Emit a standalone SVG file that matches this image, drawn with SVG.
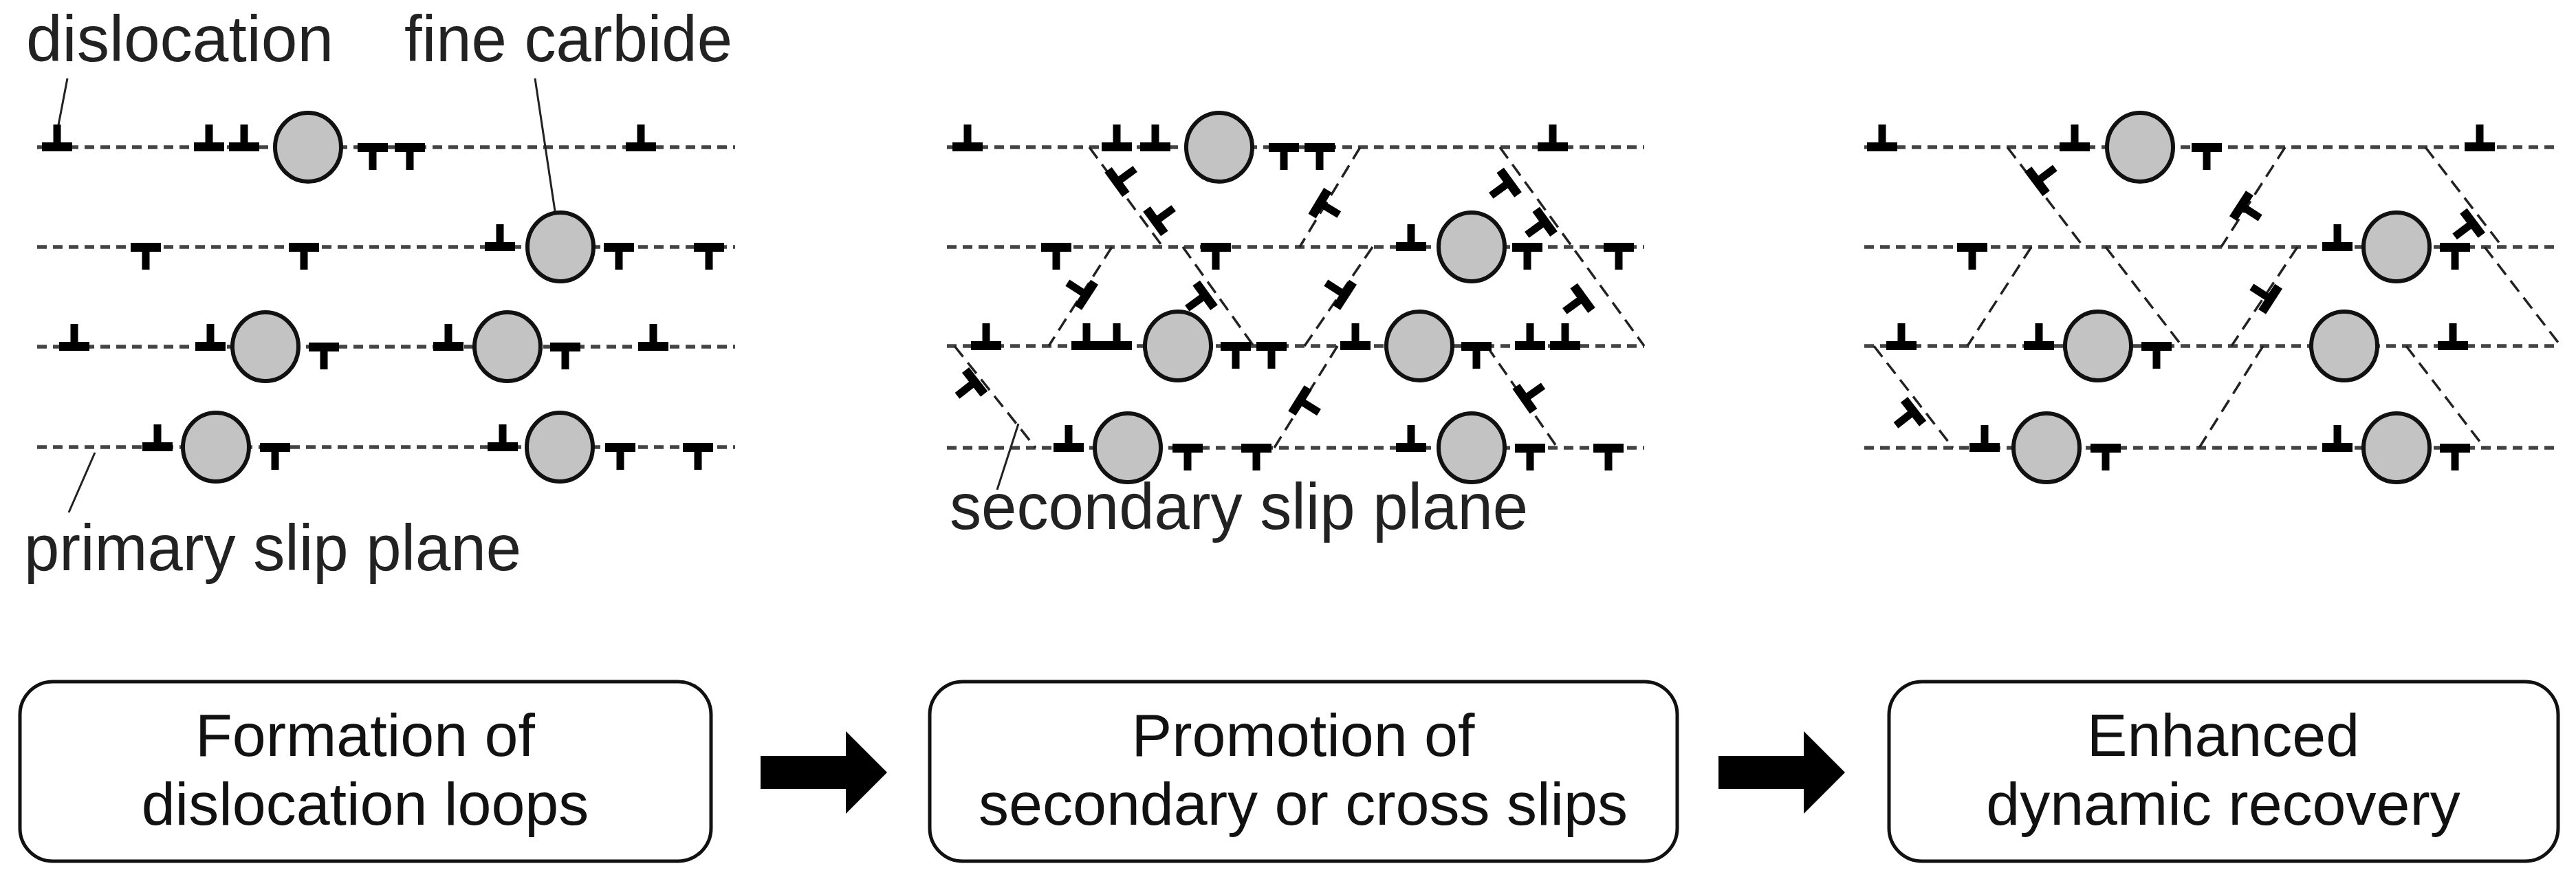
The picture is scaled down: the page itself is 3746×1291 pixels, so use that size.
<svg xmlns="http://www.w3.org/2000/svg" xmlns:xlink="http://www.w3.org/1999/xlink" width="3746" height="1291" viewBox="0 0 3746 1291">
<style>
.h{stroke:#444;stroke-width:5.5;stroke-dasharray:14 9;fill:none}
.s{stroke:#222;stroke-width:3.5;stroke-dasharray:20 11;fill:none}
.c{fill:#c3c3c3;stroke:#111;stroke-width:6}
.t{font-family:"Liberation Sans",Arial,sans-serif;font-size:94px;fill:#222}
.b{font-family:"Liberation Sans",Arial,sans-serif;font-size:88px;fill:#111;text-anchor:middle}
.box{fill:#fff;stroke:#111;stroke-width:5}
.ld{stroke:#222;stroke-width:3;fill:none}
</style>
<defs>
<g id="u"><rect x="-22" y="-7" width="44" height="13" fill="#000"/><rect x="-5.5" y="-33" width="11" height="30" fill="#000"/></g>
</defs>
<rect width="3746" height="1291" fill="#fff"/>
<g id="connectors">
<g id="p1">
<path class="h" d="M54 214H1069M54 359H1069M54 504H1069M54 650H1069"/>
<path class="ld" d="M98 114L83 192M778 114L815 360M138 658L100 745"/>
</g>
<g id="p2">
<path class="h" d="M1377 214H2391M1377 359H2391M1377 503H2391M1377 651H2391"/>
<path class="s" d="M1584 214L1691 359M1978 214L1890 359M2181 214L2391 503M1617 359L1525 503M1720 359L1823 503M1996 359L1897 503M1388 503L1506 651M1945 503L1853 651M2162 503L2265 651"/>
<path class="ld" d="M1481 616L1450 712"/>
</g>
<g id="p3">
<path class="h" d="M2711 214H3715M2711 359H3715M2711 503H3715M2711 651H3715"/>
<path class="s" d="M2919 214L3030 359M3323 214L3230 359M3527 214L3639 359M2954 359L2861 503M3062 359L3173 503M3341 359L3245 503M3613 359L3724 503M2725 503L2840 651M3291 503L3198 651M3499 503L3613 651"/>
</g>
<path d="M1106 1099H1230V1063L1290 1123L1230 1183V1147H1106Z" fill="#000"/>
<path d="M2499 1099H2623V1063L2683 1123L2623 1183V1147H2499Z" fill="#000"/>
</g>
<g id="carbides">
<ellipse class="c" cx="448" cy="214" rx="48" ry="50"/><ellipse class="c" cx="815" cy="359" rx="48" ry="50"/>
<ellipse class="c" cx="386" cy="504" rx="48" ry="50"/><ellipse class="c" cx="738" cy="504" rx="48" ry="50"/>
<ellipse class="c" cx="314" cy="650" rx="48" ry="50"/><ellipse class="c" cx="814" cy="650" rx="48" ry="50"/>
<ellipse class="c" cx="1773" cy="214" rx="48" ry="50"/><ellipse class="c" cx="2140" cy="359" rx="48" ry="50"/>
<ellipse class="c" cx="1713" cy="503" rx="48" ry="50"/><ellipse class="c" cx="2064" cy="503" rx="48" ry="50"/>
<ellipse class="c" cx="1640" cy="651" rx="48" ry="50"/><ellipse class="c" cx="2140" cy="651" rx="48" ry="50"/>
<ellipse class="c" cx="3112" cy="214" rx="48" ry="50"/><ellipse class="c" cx="3485" cy="359" rx="48" ry="50"/>
<ellipse class="c" cx="3051" cy="503" rx="48" ry="50"/><ellipse class="c" cx="3409" cy="503" rx="48" ry="50"/>
<ellipse class="c" cx="2976" cy="651" rx="48" ry="50"/><ellipse class="c" cx="3485" cy="651" rx="48" ry="50"/>
</g>
<g id="dislocations">
<use xlink:href="#u" transform="translate(83,214)"/><use xlink:href="#u" transform="translate(304,214)"/><use xlink:href="#u" transform="translate(355,214)"/><use xlink:href="#u" transform="translate(542,214) scale(1,-1)"/><use xlink:href="#u" transform="translate(596,214) scale(1,-1)"/><use xlink:href="#u" transform="translate(932,214)"/>
<use xlink:href="#u" transform="translate(212,359) scale(1,-1)"/><use xlink:href="#u" transform="translate(442,359) scale(1,-1)"/><use xlink:href="#u" transform="translate(727,359)"/><use xlink:href="#u" transform="translate(900,359) scale(1,-1)"/><use xlink:href="#u" transform="translate(1031,359) scale(1,-1)"/>
<use xlink:href="#u" transform="translate(108,504)"/><use xlink:href="#u" transform="translate(306,504)"/><use xlink:href="#u" transform="translate(471,504) scale(1,-1)"/><use xlink:href="#u" transform="translate(652,504)"/><use xlink:href="#u" transform="translate(822,504) scale(1,-1)"/><use xlink:href="#u" transform="translate(950,504)"/>
<use xlink:href="#u" transform="translate(229,650)"/><use xlink:href="#u" transform="translate(400,650) scale(1,-1)"/><use xlink:href="#u" transform="translate(731,650)"/><use xlink:href="#u" transform="translate(902,650) scale(1,-1)"/><use xlink:href="#u" transform="translate(1015,650) scale(1,-1)"/>

<use xlink:href="#u" transform="translate(1407,214)"/><use xlink:href="#u" transform="translate(1624,214)"/><use xlink:href="#u" transform="translate(1680,214)"/><use xlink:href="#u" transform="translate(1867,214) scale(1,-1)"/><use xlink:href="#u" transform="translate(1919,214) scale(1,-1)"/><use xlink:href="#u" transform="translate(2258,214)"/>
<use xlink:href="#u" transform="translate(1536,359) scale(1,-1)"/><use xlink:href="#u" transform="translate(1768,359) scale(1,-1)"/><use xlink:href="#u" transform="translate(2052,359)"/><use xlink:href="#u" transform="translate(2221,359) scale(1,-1)"/><use xlink:href="#u" transform="translate(2354,359) scale(1,-1)"/>
<use xlink:href="#u" transform="translate(1434,503)"/><use xlink:href="#u" transform="translate(1580,503)"/><use xlink:href="#u" transform="translate(1624,503)"/><use xlink:href="#u" transform="translate(1797,503) scale(1,-1)"/><use xlink:href="#u" transform="translate(1849,503) scale(1,-1)"/><use xlink:href="#u" transform="translate(1971,503)"/><use xlink:href="#u" transform="translate(2147,503) scale(1,-1)"/><use xlink:href="#u" transform="translate(2225,503)"/><use xlink:href="#u" transform="translate(2276,503)"/>
<use xlink:href="#u" transform="translate(1554,651)"/><use xlink:href="#u" transform="translate(1727,651) scale(1,-1)"/><use xlink:href="#u" transform="translate(1827,651) scale(1,-1)"/><use xlink:href="#u" transform="translate(2052,651)"/><use xlink:href="#u" transform="translate(2225,651) scale(1,-1)"/><use xlink:href="#u" transform="translate(2339,651) scale(1,-1)"/>
<use xlink:href="#u" transform="translate(1624,265) rotate(54)"/><use xlink:href="#u" transform="translate(1680,322) rotate(54)"/>
<use xlink:href="#u" transform="translate(1919,295) rotate(121)"/>
<use xlink:href="#u" transform="translate(2195,265) rotate(-126)"/><use xlink:href="#u" transform="translate(2247,322) rotate(-126)"/><use xlink:href="#u" transform="translate(2302,433) rotate(-126)"/>
<use xlink:href="#u" transform="translate(1580,429) rotate(-57)"/><use xlink:href="#u" transform="translate(1753,429) rotate(-126)"/><use xlink:href="#u" transform="translate(1956,429) rotate(-57)"/>
<use xlink:href="#u" transform="translate(1418,555) rotate(-128)"/><use xlink:href="#u" transform="translate(1890,582) rotate(122)"/><use xlink:href="#u" transform="translate(2217,580) rotate(55)"/>

<use xlink:href="#u" transform="translate(2737,214)"/><use xlink:href="#u" transform="translate(3017,214)"/><use xlink:href="#u" transform="translate(3209,214) scale(1,-1)"/><use xlink:href="#u" transform="translate(3606,214)"/>
<use xlink:href="#u" transform="translate(2868,359) scale(1,-1)"/><use xlink:href="#u" transform="translate(3399,359)"/><use xlink:href="#u" transform="translate(3570,359) scale(1,-1)"/>
<use xlink:href="#u" transform="translate(2765,503)"/><use xlink:href="#u" transform="translate(2965,503)"/><use xlink:href="#u" transform="translate(3136,503) scale(1,-1)"/><use xlink:href="#u" transform="translate(3567,503)"/>
<use xlink:href="#u" transform="translate(2886,651)"/><use xlink:href="#u" transform="translate(3062,651) scale(1,-1)"/><use xlink:href="#u" transform="translate(3399,651)"/><use xlink:href="#u" transform="translate(3570,651) scale(1,-1)"/>
<use xlink:href="#u" transform="translate(2962,264) rotate(53)"/><use xlink:href="#u" transform="translate(3259,299) rotate(123)"/><use xlink:href="#u" transform="translate(3596,324) rotate(-127)"/><use xlink:href="#u" transform="translate(3302,435) rotate(-57)"/><use xlink:href="#u" transform="translate(2783,598) rotate(-128)"/>
</g>
<g id="labels">
<text class="t" x="38" y="89" textLength="447" lengthAdjust="spacingAndGlyphs">dislocation</text>
<text class="t" x="588" y="89" textLength="477" lengthAdjust="spacingAndGlyphs">fine carbide</text>
<text class="t" x="35" y="829" textLength="723" lengthAdjust="spacingAndGlyphs">primary slip plane</text>
<text class="t" x="1381" y="769" textLength="841" lengthAdjust="spacingAndGlyphs">secondary slip plane</text>
</g>
<g id="box1"><rect class="box" x="29" y="991" width="1005" height="261" rx="48"/><text class="b" x="531" y="1099">Formation of</text><text class="b" x="531" y="1199">dislocation loops</text></g>
<g id="box2"><rect class="box" x="1352" y="991" width="1087" height="261" rx="48"/><text class="b" x="1895" y="1099">Promotion of</text><text class="b" x="1895" y="1199">secondary or cross slips</text></g>
<g id="box3"><rect class="box" x="2747" y="991" width="973" height="261" rx="48"/><text class="b" x="3233" y="1099">Enhanced</text><text class="b" x="3233" y="1199">dynamic recovery</text></g>
</svg>
